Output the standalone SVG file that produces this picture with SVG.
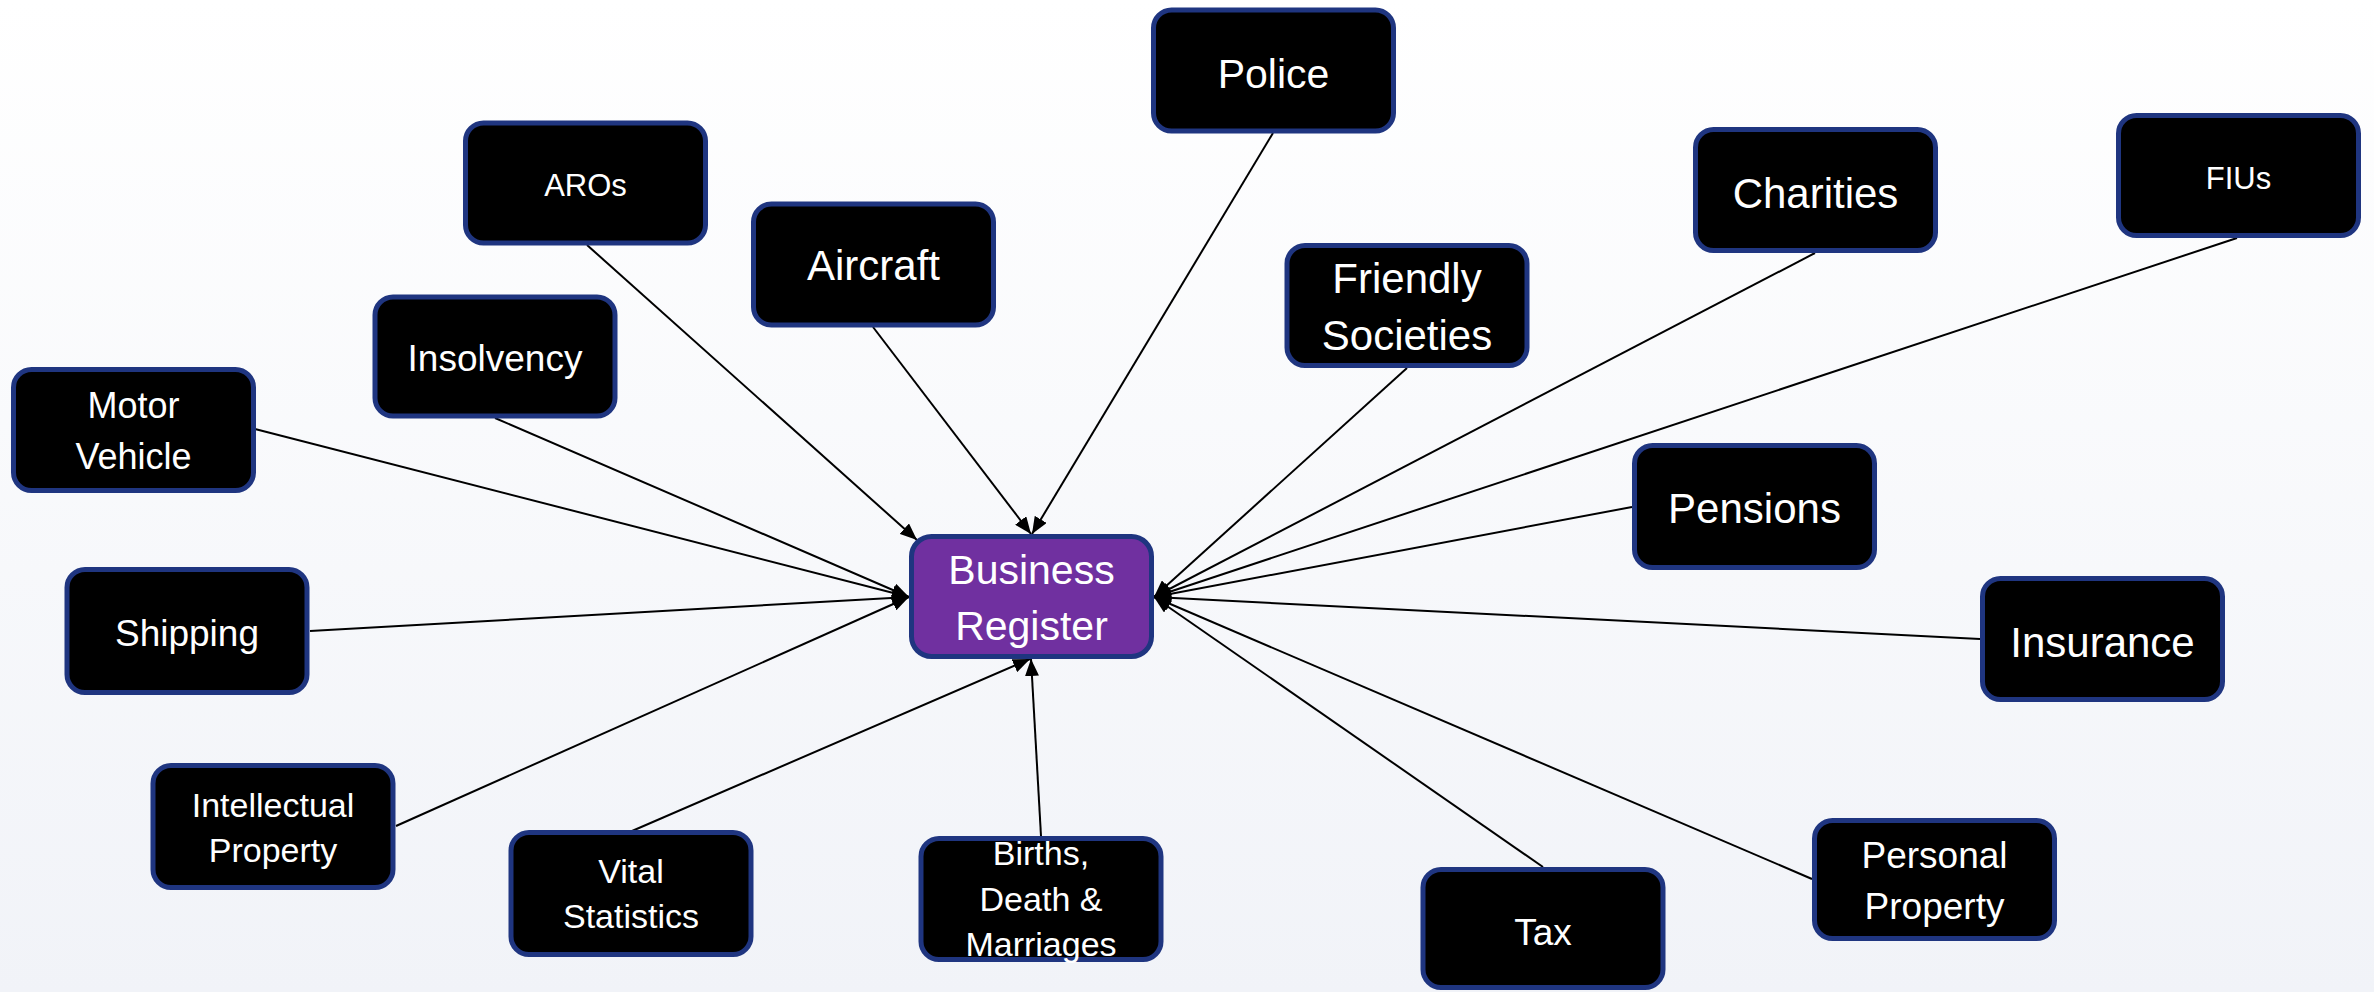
<svg xmlns="http://www.w3.org/2000/svg" width="2374" height="992" viewBox="0 0 2374 992">
  <defs>
    <linearGradient id="bg" x1="0" y1="0" x2="0" y2="1">
      <stop offset="0" stop-color="#ffffff"/>
      <stop offset="1" stop-color="#f1f3f8"/>
    </linearGradient>
    <marker id="arr" markerUnits="userSpaceOnUse" markerWidth="18" markerHeight="14" refX="17" refY="7" orient="auto">
      <path d="M0,0 L17,7 L0,14 z" fill="#000"/>
    </marker>
    <style>
      .box { fill: #000000; stroke: #1f3580; stroke-width: 5; }
      .main { fill: #7030a0; stroke: #1f3580; stroke-width: 5; }
      .lbl { font-family: "Liberation Sans", Arial, sans-serif; fill: #ffffff; text-anchor: middle; }
      .conn line { stroke: #000; stroke-width: 2; marker-end: url(#arr); }
    </style>
  </defs>
  <rect x="0" y="0" width="2374" height="992" fill="url(#bg)"/>

  <g id="connectors" class="conn">
    <line x1="1273" y1="133" x2="1032" y2="534"/>
    <line x1="873" y1="327" x2="1031" y2="534"/>
    <line x1="587" y1="245" x2="917" y2="540"/>
    <line x1="495" y1="418" x2="909" y2="597"/>
    <line x1="255" y1="429" x2="909" y2="597"/>
    <line x1="310" y1="631" x2="909" y2="597"/>
    <line x1="396" y1="826" x2="909" y2="597"/>
    <line x1="632" y1="831" x2="1030" y2="659"/>
    <line x1="1041" y1="836" x2="1031" y2="659"/>
    <line x1="1543" y1="867" x2="1154" y2="597"/>
    <line x1="1812" y1="879" x2="1154" y2="597"/>
    <line x1="1980" y1="639" x2="1154" y2="597"/>
    <line x1="1632" y1="507" x2="1154" y2="597"/>
    <line x1="2237" y1="238" x2="1154" y2="597"/>
    <line x1="1815" y1="253" x2="1154" y2="597"/>
    <line x1="1407" y1="368" x2="1154" y2="597"/>
  </g>

  <g id="business-register">
    <rect class="main" x="911.5" y="536.5" width="240" height="120" rx="20"/>
    <text class="lbl" x="1031.5" y="584" font-size="41">Business</text>
    <text class="lbl" x="1031.5" y="640" font-size="41">Register</text>
  </g>

  <g id="police">
    <rect class="box" x="1153.5" y="10" width="240" height="121" rx="18"/>
    <text class="lbl" x="1273.5" y="88" font-size="41">Police</text>
  </g>
  <g id="aros">
    <rect class="box" x="465.5" y="123" width="240" height="120" rx="18"/>
    <text class="lbl" x="585.5" y="196" font-size="31">AROs</text>
  </g>
  <g id="aircraft">
    <rect class="box" x="753.5" y="204" width="240" height="121" rx="18"/>
    <text class="lbl" x="873.5" y="280" font-size="42">Aircraft</text>
  </g>
  <g id="insolvency">
    <rect class="box" x="375" y="297" width="240" height="119" rx="18"/>
    <text class="lbl" x="495" y="371" font-size="37">Insolvency</text>
  </g>
  <g id="motor-vehicle">
    <rect class="box" x="13.5" y="369.5" width="240" height="121" rx="18"/>
    <text class="lbl" x="133.5" y="418" font-size="36">Motor</text>
    <text class="lbl" x="133.5" y="469" font-size="36">Vehicle</text>
  </g>
  <g id="shipping">
    <rect class="box" x="67" y="569.5" width="240" height="123" rx="18"/>
    <text class="lbl" x="187" y="646" font-size="37">Shipping</text>
  </g>
  <g id="intellectual-property">
    <rect class="box" x="153" y="765.5" width="240" height="122" rx="18"/>
    <text class="lbl" x="273" y="817" font-size="34">Intellectual</text>
    <text class="lbl" x="273" y="862" font-size="34">Property</text>
  </g>
  <g id="vital-statistics">
    <rect class="box" x="511" y="832.5" width="240" height="122" rx="18"/>
    <text class="lbl" x="631" y="883" font-size="34">Vital</text>
    <text class="lbl" x="631" y="928" font-size="34">Statistics</text>
  </g>
  <g id="births-death-marriages">
    <rect class="box" x="921" y="838.5" width="240" height="121" rx="18"/>
    <text class="lbl" x="1041" y="865" font-size="34">Births,</text>
    <text class="lbl" x="1041" y="911" font-size="34">Death &amp;</text>
    <text class="lbl" x="1041" y="956" font-size="34">Marriages</text>
  </g>
  <g id="tax">
    <rect class="box" x="1423" y="869.5" width="240" height="118" rx="18"/>
    <text class="lbl" x="1543" y="945" font-size="37">Tax</text>
  </g>
  <g id="personal-property">
    <rect class="box" x="1814.5" y="820.5" width="240" height="118" rx="18"/>
    <text class="lbl" x="1934.5" y="868" font-size="37">Personal</text>
    <text class="lbl" x="1934.5" y="919" font-size="37">Property</text>
  </g>
  <g id="insurance">
    <rect class="box" x="1982.5" y="578.5" width="240" height="121" rx="18"/>
    <text class="lbl" x="2102.5" y="657" font-size="42">Insurance</text>
  </g>
  <g id="pensions">
    <rect class="box" x="1634.5" y="445.5" width="240" height="122" rx="18"/>
    <text class="lbl" x="1754.5" y="523" font-size="42">Pensions</text>
  </g>
  <g id="fius">
    <rect class="box" x="2118.5" y="115.5" width="240" height="120" rx="18"/>
    <text class="lbl" x="2238.5" y="189" font-size="31">FIUs</text>
  </g>
  <g id="charities">
    <rect class="box" x="1695.5" y="129.5" width="240" height="121" rx="18"/>
    <text class="lbl" x="1815.5" y="208" font-size="42">Charities</text>
  </g>
  <g id="friendly-societies">
    <rect class="box" x="1287" y="245.5" width="240" height="120" rx="18"/>
    <text class="lbl" x="1407" y="293" font-size="42">Friendly</text>
    <text class="lbl" x="1407" y="350" font-size="42">Societies</text>
  </g>
</svg>
